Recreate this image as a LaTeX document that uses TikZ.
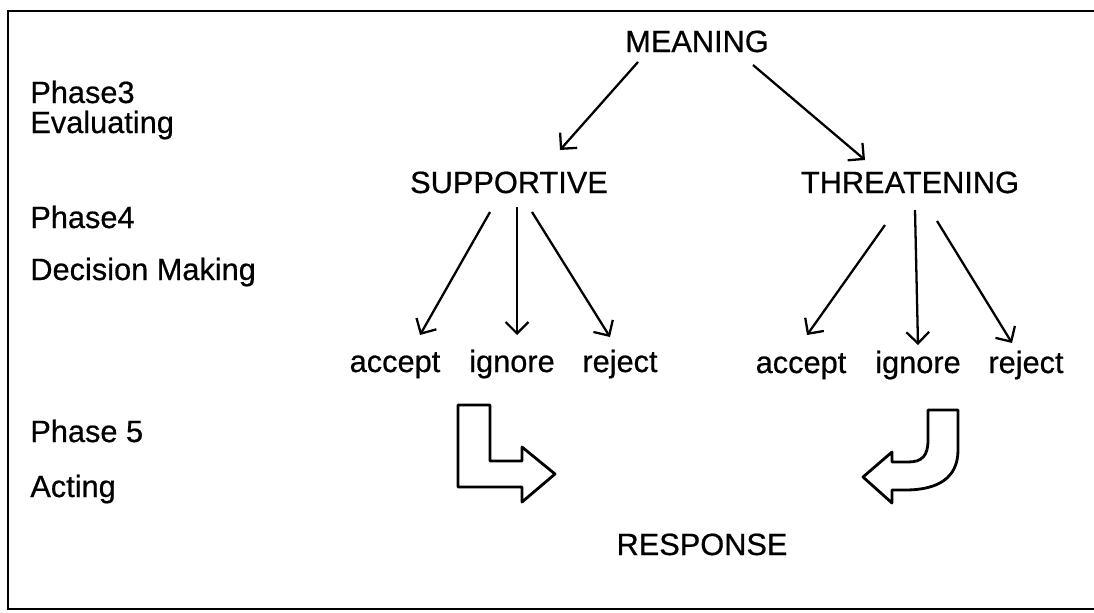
\documentclass[tikz,border=0pt]{standalone}
\usepackage{fontspec}
\setmainfont{Liberation Sans}[BoldFont=Liberation Sans, BoldFeatures={FakeBold=0.6}]
\usepackage{tikz}
\usetikzlibrary{arrows.meta, calc}

\tikzset{
  lbl/.style={inner sep=0pt, anchor=base, font=\fontsize{17.5}{21}\selectfont\bfseries},
  phase/.style={lbl, anchor=base west},
  arr/.style={line width=1.3pt, -{Straight Barb[length=6.5pt,width=13pt,line width=1.3pt]}},
  blockarr/.style={line width=1.6pt, line join=round, fill=white}
}

\begin{document}
\begin{tikzpicture}[x=0.02cm, y=-0.02cm]
  \useasboundingbox (0,0) rectangle (1094,612);
  % frame
  \draw[line width=1.5pt] (1094,11) -- (8,11) -- (8,609) -- (1094,609);

  % phase labels
  \node[phase] (ph3) at (30,103) {Phase3};
  \node[phase] (ph3b) at (30,133) {Evaluating};
  \node[phase] (ph4) at (30,228) {Phase4};
  \node[phase] (ph4b) at (30,280) {Decision Making};
  \node[phase] (ph5) at (30,442) {Phase 5};
  \node[phase] (ph5b) at (30,497) {Acting};

  % tree
  \node[lbl] (meaning) at (697,52) {MEANING};
  \node[lbl] (supp) at (509,193) {SUPPORTIVE};
  \node[lbl] (threat) at (910,193) {THREATENING};
  \node[lbl] (sacc) at (395,372) {accept};
  \node[lbl] (sign) at (512,372) {ignore};
  \node[lbl] (srej) at (620,372) {reject};
  \node[lbl] (tacc) at (801,373) {accept};
  \node[lbl] (tign) at (918,373) {ignore};
  \node[lbl] (trej) at (1026,373) {reject};
  \node[lbl] (resp) at (702,555) {RESPONSE};

  \draw[arr] ($(meaning.base)+(-59,10)$) -- ($(supp.base)+(51,-43)$);
  \draw[arr] ($(meaning.base)+(56,13)$) -- ($(threat.base)+(-45,-33)$);

  \draw[arr] ($(supp.base)+(-19,19)$) -- ($(sacc.base)+(25,-37)$);
  \draw[arr] ($(supp.base)+(8,14)$) -- ($(sign.base)+(5,-37)$);
  \draw[arr] ($(supp.base)+(23,19)$) -- ($(srej.base)+(-10,-35)$);

  \draw[arr] ($(threat.base)+(-25,32)$) -- ($(tacc.base)+(6,-38)$);
  \draw[arr] ($(threat.base)+(5,17)$) -- ($(tign.base)+(0,-28)$);
  \draw[arr] ($(threat.base)+(27,28)$) -- ($(trej.base)+(-14,-30)$);

  % block arrows
  \draw[blockarr] (458,405) -- (490,405) -- (490,461) -- (522,461) -- (522,447)
    -- (555,474) -- (522,502) -- (522,487) -- (458,487) -- cycle;
  \draw[blockarr] (928,410) -- (958,410) -- (958,450)
    .. controls (958,478) and (938,490) .. (905,490) -- (892,490) -- (892,503)
    -- (863,477) -- (892,452) -- (892,462) -- (908,462)
    .. controls (922,462) and (928,456) .. (928,440) -- cycle;
\end{tikzpicture}
\end{document}
